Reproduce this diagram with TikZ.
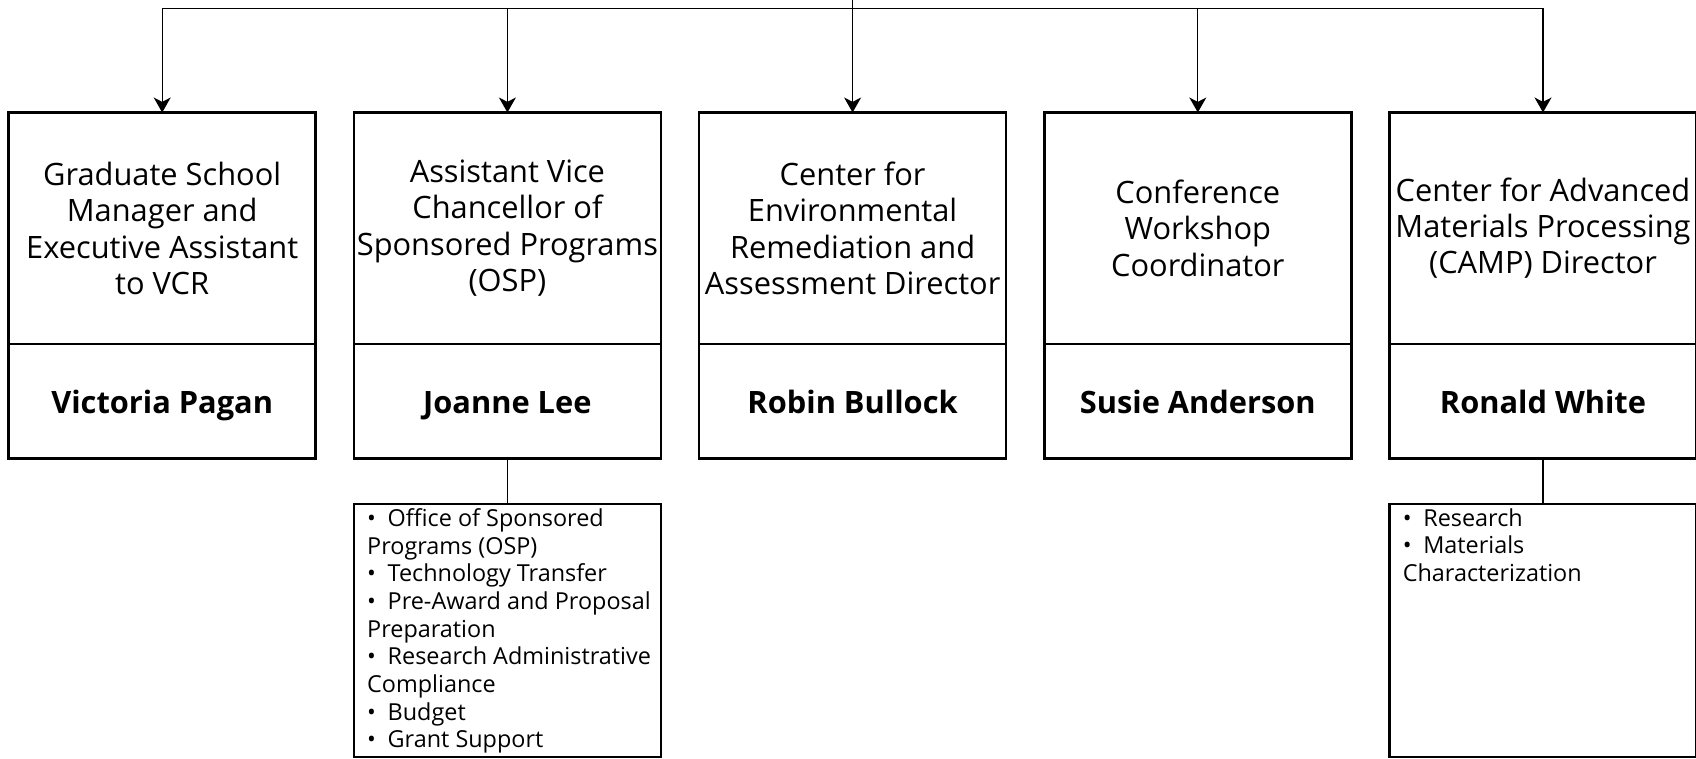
\documentclass[tikz,border=0pt]{standalone}
\usepackage{fontspec}
\setmainfont{Open Sans}
\usepackage{tikz}
\usetikzlibrary{positioning,arrows.meta,calc}

\begin{document}
\begin{tikzpicture}[
    titlebox/.style={rectangle, draw=black, line width=1.35pt, outer sep=0pt,
                minimum width=153.5pt, minimum height=115.75pt, inner sep=0pt,
                align=center, font=\fontsize{15.4}{18.2}\selectfont},
    namebox/.style={rectangle, draw=black, line width=1.35pt, outer sep=0pt,
                minimum width=153.5pt, minimum height=57.3pt, inner sep=0pt,
                text height=13.6pt, text depth=1.6pt,
                align=center, font=\fontsize{15.4}{18}\selectfont\bfseries},
    listbox/.style={rectangle, draw=black, line width=1.35pt, outer sep=0pt,
                minimum width=153.5pt, inner xsep=0pt, inner ysep=2.2pt,
                font=\fontsize{11.7}{13.85}\selectfont},
    arrow/.style={-{Stealth[length=7.5pt, width=8.5pt, inset=2.2pt]}, line width=0.65pt},
    link/.style={line width=0.65pt}
]
    \useasboundingbox (0,0) rectangle (848pt,-379.5pt);

    \node[titlebox, anchor=north west] (t1) at (4.35pt,-56.25pt)
        {Graduate School\\Manager and\\Executive Assistant\\to VCR};
    \node[titlebox, right=19.1pt of t1] (t2)
        {Assistant Vice\\Chancellor of\\Sponsored Programs\\(OSP)};
    \node[titlebox, right=19.1pt of t2] (t3)
        {Center for\\Environmental\\Remediation and\\Assessment Director};
    \node[titlebox, right=19.1pt of t3] (t4)
        {Conference\\Workshop\\Coordinator};
    \node[titlebox, right=19.1pt of t4] (t5)
        {Center for Advanced\\Materials Processing\\(CAMP) Director};

    \node[namebox, below=0pt of t1] (n1) {Victoria Pagan};
    \node[namebox, below=0pt of t2] (n2) {Joanne Lee};
    \node[namebox, below=0pt of t3] (n3) {Robin Bullock};
    \node[namebox, below=0pt of t4] (n4) {Susie Anderson};
    \node[namebox, below=0pt of t5] (n5) {Ronald White};

    \node[listbox, below=22.7pt of n2] (l2) {\parbox[c][122.1pt][t]{150pt}{\raggedright\leftskip=4.9pt
        •\hspace{0.5em}Office of Sponsored\\Programs (OSP)\\
        •\hspace{0.5em}Technology Transfer\\
        •\hspace{0.5em}Pre-Award and Proposal\\Preparation\\
        •\hspace{0.5em}Research Administrative\\Compliance\\
        •\hspace{0.5em}Budget\\
        •\hspace{0.5em}Grant Support}};
    \node[listbox, below=22.7pt of n5] (l5) {\parbox[c][122.1pt][t]{150pt}{\raggedright\leftskip=4.9pt
        •\hspace{0.5em}Research\\
        •\hspace{0.5em}Materials\\Characterization}};

    \coordinate (top) at ($(t3.north)+(0,56.25pt)$);
    \draw[arrow] (top) -- (t3.north);
    \draw[arrow] (top) -- ++(0,-4.3pt) -| (t1.north);
    \draw[arrow] (top) -- ++(0,-4.3pt) -| (t2.north);
    \draw[arrow] (top) -- ++(0,-4.3pt) -| (t4.north);
    \draw[arrow] (top) -- ++(0,-4.3pt) -| (t5.north);

    \draw[link] (n2) -- (l2);
    \draw[link] (n5) -- (l5);
\end{tikzpicture}
\end{document}
